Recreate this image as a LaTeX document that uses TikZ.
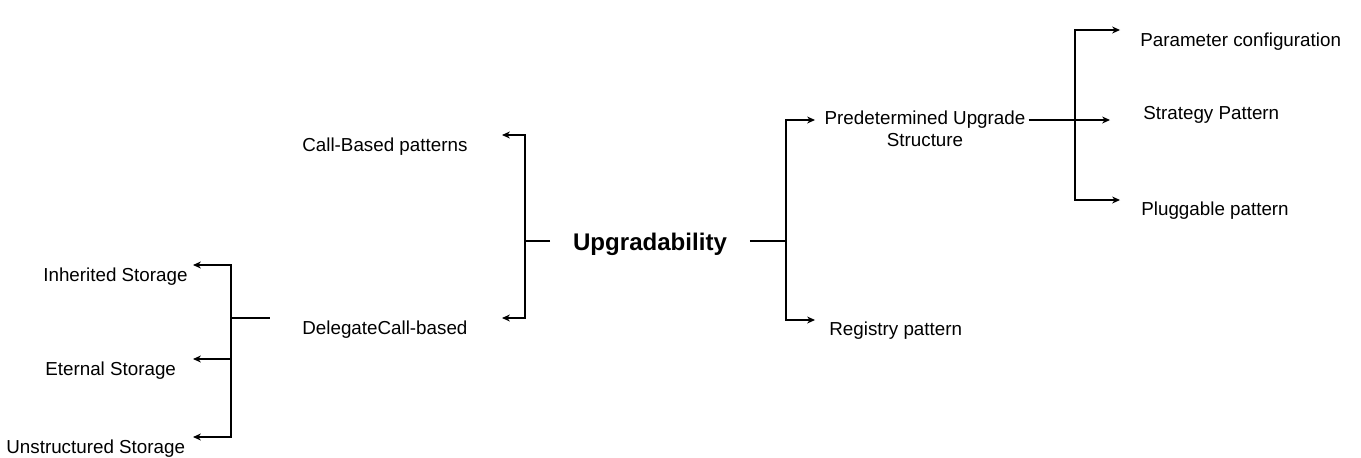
\documentclass[tikz,border=0pt]{standalone}
\usepackage{fontspec}
\setmainfont{Liberation Sans}
\usetikzlibrary{arrows.meta}
\begin{document}
\begin{tikzpicture}[x=0.02cm,y=-0.02cm,
		lbl/.style={font=\fontsize{10.7}{12.5}\selectfont,inner sep=0pt,anchor=base west},
		root/.style={font=\fontsize{13.7}{16}\selectfont\bfseries,inner sep=0pt,outer sep=0.46cm,anchor=base},
		conn/.style={line width=0.6pt,-{Stealth[length=4.5pt,width=4pt]}},
		bar/.style={line width=0.6pt}]
		\useasboundingbox (0,0) rectangle (1361,457);
		% root
		\node[root] (upg) at (650,250) {Upgradability};
		% labels
		\node[lbl] (call) at (302,151) {Call-Based patterns};
		\node[lbl] (deleg) at (302,334) {DelegateCall-based};
		\node[lbl] (inher) at (43,281) {Inherited Storage};
		\node[lbl] (etern) at (45,375) {Eternal Storage};
		\node[lbl] (unstr) at (6,453) {Unstructured Storage};
		\node[lbl,anchor=center,align=center] (prede) at (925,129) {Predetermined Upgrade\\Structure};
		\node[lbl] (regis) at (829,335) {Registry pattern};
		\node[lbl] (param) at (1140,46) {Parameter configuration};
		\node[lbl] (strat) at (1143,119) {Strategy Pattern};
		\node[lbl] (plugg) at (1141,215) {Pluggable pattern};
		% junctions and arrow tips
		\coordinate (jl) at (525,241);
		\coordinate (js) at (231,318);
		\coordinate (jr) at (786,241);
		\coordinate (jp) at (1075,120);
		\coordinate (tcall) at (502,135);
		\coordinate (tdeleg) at (502,318);
		\coordinate (tinher) at (193,265);
		\coordinate (tetern) at (193,359);
		\coordinate (tunstr) at (193,437);
		\coordinate (tprede) at (815,120);
		\coordinate (tregis) at (815,320);
		\coordinate (tparam) at (1120,30);
		\coordinate (tstrat) at (1110,120);
		\coordinate (tplugg) at (1120,200);
		% left branch
		\draw[bar] (upg.west |- jl) -- (jl);
		\draw[conn] (jl) |- (tcall);
		\draw[conn] (jl) |- (tdeleg);
		% storage branch
		\draw[line width=1.1pt] (js) -- ([xshift=0.78cm]js);
		\draw[conn] (js) |- (tinher);
		\draw[conn] (js) |- (tetern);
		\draw[conn] (js) |- (tunstr);
		% right branch
		\draw[bar] (upg.east |- jr) -- (jr);
		\draw[conn] (jr) |- (tprede);
		\draw[conn] (jr) |- (tregis);
		% predetermined branch
		\draw[conn] ([xshift=0.06cm]prede.east |- jp) -- (tstrat);
		\draw[conn] (jp) |- (tparam);
		\draw[conn] (jp) |- (tplugg);
	\end{tikzpicture}
\end{document}
